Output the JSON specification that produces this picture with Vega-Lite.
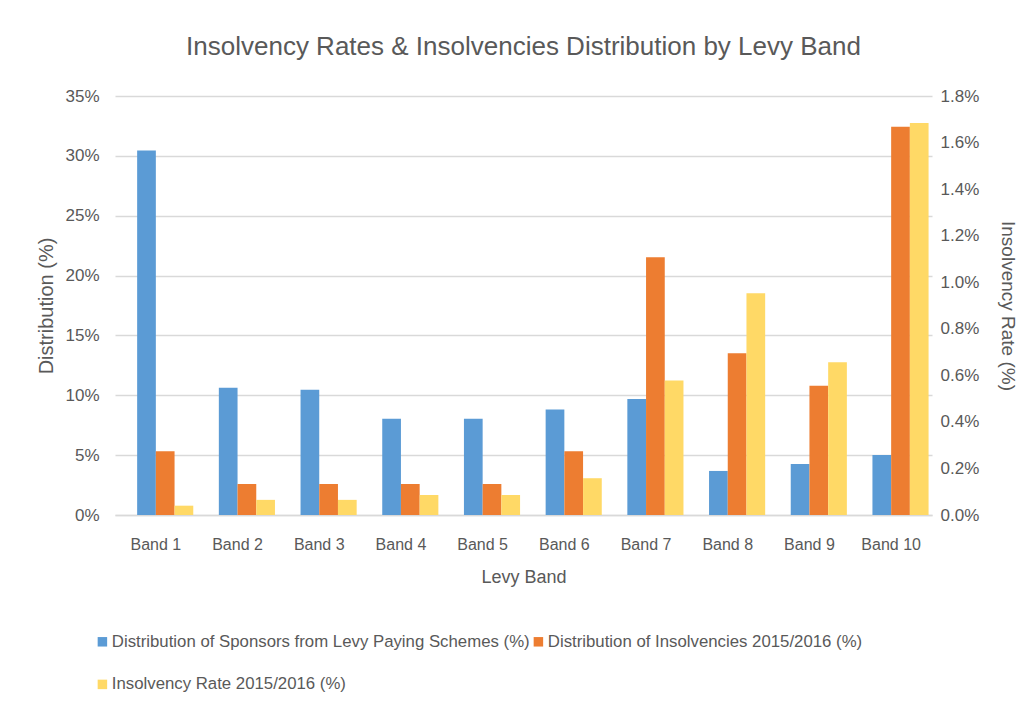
{
  "$schema": "https://vega.github.io/schema/vega-lite/v6.json",
  "width": 817,
  "height": 419,
  "autosize": "none",
  "padding": {"left": 115, "top": 96, "right": 103, "bottom": 192},
  "background": "white",
  "title": {
    "text": "Insolvency Rates & Insolvencies Distribution by Levy Band",
    "fontSize": 26,
    "font": "Liberation Sans",
    "fontWeight": "normal",
    "color": "#595959",
    "anchor": "middle",
    "offset": 27
  },
  "data": {
    "values": [
      {"band": "Band 1", "series": "Distribution of Sponsors from Levy Paying Schemes (%)", "value": 30.45},
      {"band": "Band 1", "series": "Distribution of Insolvencies 2015/2016 (%)", "value": 5.33},
      {"band": "Band 1", "series": "Insolvency Rate 2015/2016 (%)", "value": 0.040},
      {"band": "Band 2", "series": "Distribution of Sponsors from Levy Paying Schemes (%)", "value": 10.62},
      {"band": "Band 2", "series": "Distribution of Insolvencies 2015/2016 (%)", "value": 2.59},
      {"band": "Band 2", "series": "Insolvency Rate 2015/2016 (%)", "value": 0.065},
      {"band": "Band 3", "series": "Distribution of Sponsors from Levy Paying Schemes (%)", "value": 10.46},
      {"band": "Band 3", "series": "Distribution of Insolvencies 2015/2016 (%)", "value": 2.59},
      {"band": "Band 3", "series": "Insolvency Rate 2015/2016 (%)", "value": 0.065},
      {"band": "Band 4", "series": "Distribution of Sponsors from Levy Paying Schemes (%)", "value": 8.03},
      {"band": "Band 4", "series": "Distribution of Insolvencies 2015/2016 (%)", "value": 2.59},
      {"band": "Band 4", "series": "Insolvency Rate 2015/2016 (%)", "value": 0.086},
      {"band": "Band 5", "series": "Distribution of Sponsors from Levy Paying Schemes (%)", "value": 8.03},
      {"band": "Band 5", "series": "Distribution of Insolvencies 2015/2016 (%)", "value": 2.59},
      {"band": "Band 5", "series": "Insolvency Rate 2015/2016 (%)", "value": 0.086},
      {"band": "Band 6", "series": "Distribution of Sponsors from Levy Paying Schemes (%)", "value": 8.81},
      {"band": "Band 6", "series": "Distribution of Insolvencies 2015/2016 (%)", "value": 5.33},
      {"band": "Band 6", "series": "Insolvency Rate 2015/2016 (%)", "value": 0.158},
      {"band": "Band 7", "series": "Distribution of Sponsors from Levy Paying Schemes (%)", "value": 9.70},
      {"band": "Band 7", "series": "Distribution of Insolvencies 2015/2016 (%)", "value": 21.53},
      {"band": "Band 7", "series": "Insolvency Rate 2015/2016 (%)", "value": 0.578},
      {"band": "Band 8", "series": "Distribution of Sponsors from Levy Paying Schemes (%)", "value": 3.68},
      {"band": "Band 8", "series": "Distribution of Insolvencies 2015/2016 (%)", "value": 13.52},
      {"band": "Band 8", "series": "Insolvency Rate 2015/2016 (%)", "value": 0.953},
      {"band": "Band 9", "series": "Distribution of Sponsors from Levy Paying Schemes (%)", "value": 4.27},
      {"band": "Band 9", "series": "Distribution of Insolvencies 2015/2016 (%)", "value": 10.79},
      {"band": "Band 9", "series": "Insolvency Rate 2015/2016 (%)", "value": 0.656},
      {"band": "Band 10", "series": "Distribution of Sponsors from Levy Paying Schemes (%)", "value": 5.02},
      {"band": "Band 10", "series": "Distribution of Insolvencies 2015/2016 (%)", "value": 32.43},
      {"band": "Band 10", "series": "Insolvency Rate 2015/2016 (%)", "value": 1.684}
    ]
  },
  "encoding": {
    "x": {
      "field": "band",
      "type": "nominal",
      "sort": null,
      "scale": {"domain": ["Band 1", "Band 2", "Band 3", "Band 4", "Band 5", "Band 6", "Band 7", "Band 8", "Band 9", "Band 10"], "paddingInner": 0.084, "paddingOuter": 0.042},
      "axis": {
        "title": "Levy Band",
        "labelAngle": 0,
        "labelFontSize": 16,
        "labelPadding": 21,
        "titleFontSize": 18,
        "titlePadding": 16,
        "ticks": false,
        "domain": true,
        "domainColor": "#d9d9d9",
        "domainWidth": 1.5
      }
    },
    "xOffset": {
      "field": "series",
      "type": "nominal",
      "scale": {"domain": ["gap", "Distribution of Sponsors from Levy Paying Schemes (%)", "Distribution of Insolvencies 2015/2016 (%)", "Insolvency Rate 2015/2016 (%)"], "paddingInner": 0, "paddingOuter": 0}
    },
    "color": {
      "field": "series",
      "type": "nominal",
      "scale": {
        "domain": ["Distribution of Sponsors from Levy Paying Schemes (%)", "Distribution of Insolvencies 2015/2016 (%)", "Insolvency Rate 2015/2016 (%)"],
        "range": ["#5B9BD5", "#ED7D31", "#FFD966"]
      },
      "legend": {
        "title": null,
        "orient": "none",
        "legendX": -21,
        "legendY": 537,
        "direction": "horizontal",
        "columns": 2,
        "columnPadding": 0,
        "rowPadding": 25,
        "symbolType": "square",
        "symbolSize": 90,
        "symbolStrokeWidth": 0,
        "symbolOffset": 0,
        "labelFontSize": 16.8,
        "labelOffset": 1,
        "labelColor": "#595959",
        "labelLimit": 600
      }
    }
  },
  "layer": [
    {
      "transform": [{"filter": "datum.series != 'Insolvency Rate 2015/2016 (%)'"}],
      "mark": {"type": "bar"},
      "encoding": {
        "y": {
          "field": "value",
          "type": "quantitative",
          "scale": {"domain": [0, 35], "nice": false},
          "axis": {
            "title": "Distribution (%)",
            "values": [0, 5, 10, 15, 20, 25, 30, 35],
            "labelExpr": "datum.value + '%'",
            "labelFontSize": 17,
            "labelPadding": 16,
            "titleFontSize": 20,
            "titlePadding": 8,
            "grid": true,
            "gridColor": "#d9d9d9",
            "gridWidth": 1.5,
            "ticks": false,
            "domain": false
          }
        }
      }
    },
    {
      "transform": [{"filter": "datum.series == 'Insolvency Rate 2015/2016 (%)'"}],
      "mark": {"type": "bar"},
      "encoding": {
        "y": {
          "field": "value",
          "type": "quantitative",
          "scale": {"domain": [0, 1.8], "nice": false},
          "axis": {
            "orient": "right",
            "title": "Insolvency Rate (%)",
            "values": [0, 0.2, 0.4, 0.6, 0.8, 1.0, 1.2, 1.4, 1.6, 1.8],
            "labelExpr": "format(datum.value, '.1f') + '%'",
            "labelFontSize": 17,
            "labelPadding": 8,
            "titleFontSize": 19,
            "titlePadding": 19,
            "grid": false,
            "ticks": false,
            "domain": false
          }
        }
      }
    }
  ],
  "resolve": {"scale": {"y": "independent"}},
  "config": {
    "font": "Liberation Sans",
    "view": {"stroke": null},
    "axis": {
      "labelColor": "#595959",
      "titleColor": "#595959",
      "labelFont": "Liberation Sans",
      "titleFont": "Liberation Sans",
      "titleFontWeight": "normal"
    },
    "legend": {"labelFont": "Liberation Sans"}
  }
}
